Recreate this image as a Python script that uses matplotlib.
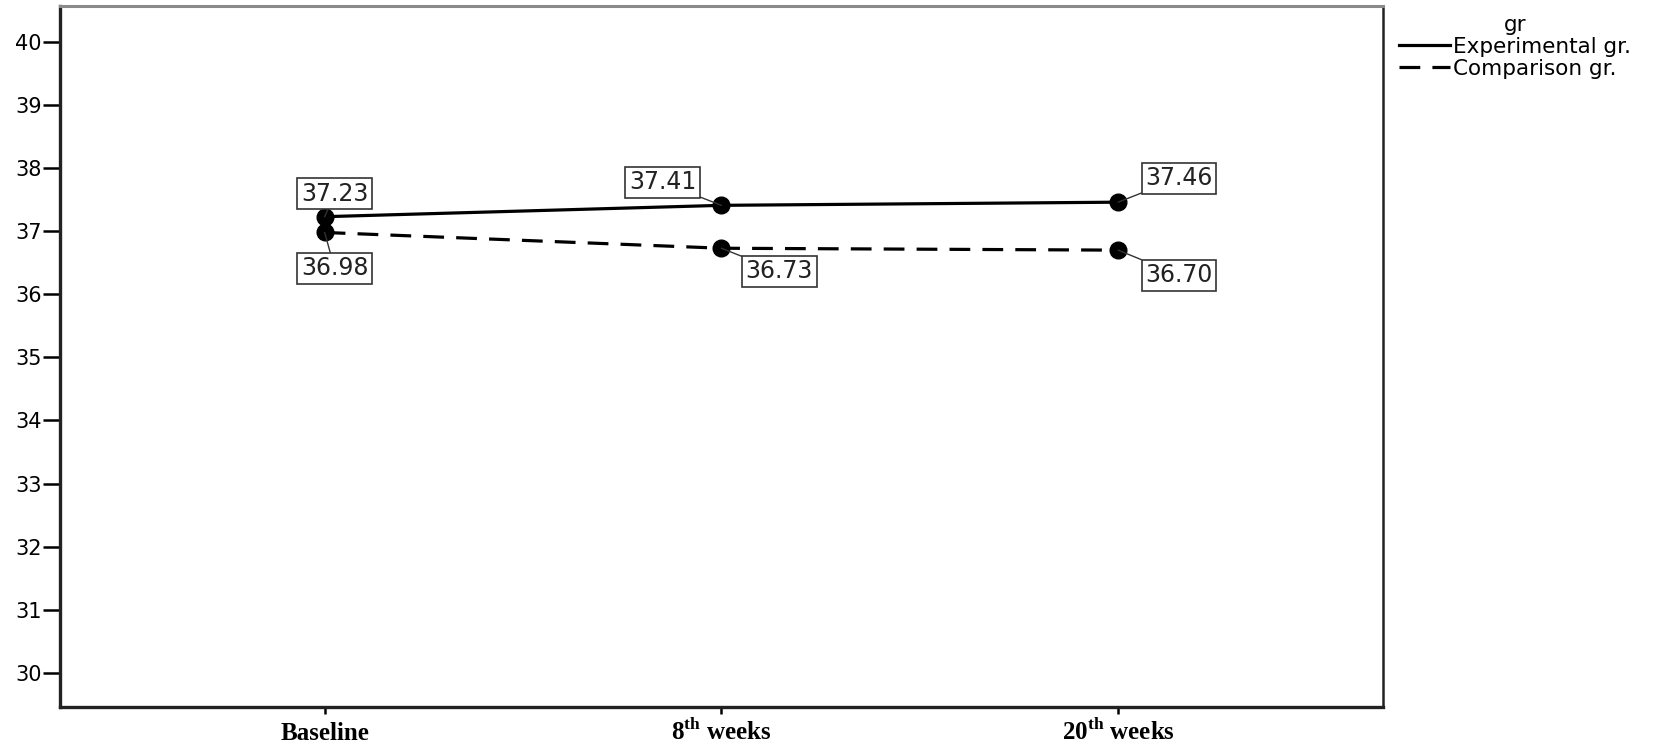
import matplotlib
matplotlib.use("Agg")
import matplotlib.pyplot as plt
from matplotlib.lines import Line2D

# Mean scores per time point
TIMEPOINTS = ["Baseline", r"8$^{\mathrm{th}}$ weeks", r"20$^{\mathrm{th}}$ weeks"]
EXPERIMENTAL = [37.23, 37.41, 37.46]
COMPARISON = [36.98, 36.73, 36.70]
Y_TICKS = [30, 31, 32, 33, 34, 35, 36, 37, 38, 39, 40]

# label box offsets in pixels from each point
EXP_OFFSETS = [(10, 23), (-59, 23), (61, 24)]
CMP_OFFSETS = [(10, -36), (58, -23), (61, -25)]

plt.rcParams["font.family"] = ["DejaVu Sans"]
plt.rcParams["mathtext.fontset"] = "custom"
plt.rcParams["mathtext.rm"] = "Liberation Serif:bold"

fig = plt.figure(figsize=(16.54, 7.43), dpi=100)
ax = fig.add_axes([0.0363, 0.0485, 0.836 - 0.0363, 0.992 - 0.0485])

x = list(range(len(TIMEPOINTS)))
dash = (0, (6.5, 3.8))
ax.plot(x, EXPERIMENTAL, color="black", linewidth=2.3, marker="o",
        markersize=12, solid_capstyle="butt")
ax.plot(x, COMPARISON, color="black", linewidth=2.3, linestyle=dash,
        marker="o", markersize=12)

box = dict(boxstyle="square,pad=0.15", facecolor="white", edgecolor="#333333", linewidth=1.2)
arrow = dict(arrowstyle="-", color="#333333", linewidth=1.0, shrinkA=0, shrinkB=0)
for vals, offs in ((EXPERIMENTAL, EXP_OFFSETS), (COMPARISON, CMP_OFFSETS)):
    for xi, v, off in zip(x, vals, offs):
        ax.annotate(f"{v:.2f}", xy=(xi, v), xytext=off, textcoords="offset pixels",
                    ha="center", va="center", fontsize=17, color="#222222",
                    bbox=box, arrowprops=arrow, zorder=5)

ax.set_xlim(-0.667, 2.667)
ax.set_ylim(29.46, 40.57)
ax.set_yticks(Y_TICKS)
ax.set_xticks(x)
ax.set_xticklabels(TIMEPOINTS, fontfamily="Liberation Serif", fontweight="bold",
                   fontsize=18, va="baseline")
ax.tick_params(axis="y", length=12, width=1.8, pad=1, labelsize=15)
ax.tick_params(axis="x", length=5, width=1.8, pad=19)

for side in ("left", "bottom"):
    ax.spines[side].set_linewidth(2.4)
    ax.spines[side].set_color("#222222")
ax.spines["top"].set_linewidth(2.2)
ax.spines["top"].set_color("#8a8a8a")
ax.spines["right"].set_linewidth(1.8)
ax.spines["right"].set_color("#222222")

handles = [
    Line2D([], [], color="black", linewidth=2.3),
    Line2D([], [], color="black", linewidth=2.3, linestyle=dash),
]
leg = fig.legend(handles, ["Experimental gr.", "Comparison gr."], title="gr",
                 loc="upper left", bbox_to_anchor=(0.8405, 0.992), frameon=False,
                 fontsize=15.5, title_fontsize=15.5, handlelength=2.4,
                 handletextpad=0.1, labelspacing=0.1, borderaxespad=0)
leg._legend_box.align = "center"

fig.savefig("out.png", dpi=100, facecolor="white")
